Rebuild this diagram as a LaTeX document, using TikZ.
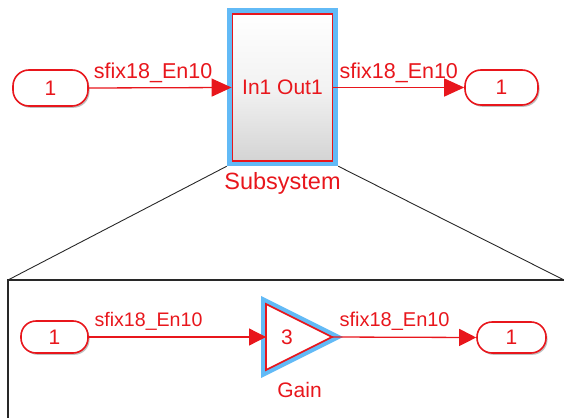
\documentclass[tikz,border=0pt]{standalone}
\usepackage{fontspec}
\setmainfont{Liberation Sans}
\usetikzlibrary{arrows.meta,shadows}
\definecolor{slred}{RGB}{232,22,28}
\definecolor{slblue}{RGB}{98,186,246}
\definecolor{slgray}{RGB}{40,40,40}
\tikzset{
  port/.style={draw=slred, line width=1.6pt, fill=white, rectangle, rounded corners=16pt,
    inner sep=0pt, text=slred, font=\fontsize{21}{21}\selectfont,
    drop shadow={shadow xshift=1.5pt, shadow yshift=-1.8pt, opacity=0.25, fill=black}},
  sig/.style={draw=slred, line width=1.3pt},
  sigtop/.style={sig, -{Triangle[length=20pt,width=18pt]}},
  sigbot/.style={sig, -{Triangle[length=17pt,width=17pt]}},
  siglabel/.style={text=slred, anchor=base, inner sep=0pt},
  frameline/.style={draw=slgray, line width=1.5pt},
  zoomline/.style={draw=slgray, line width=0.9pt},
}
\begin{document}
\begin{tikzpicture}[x=1pt,y=-1pt]
\useasboundingbox (0,0) rectangle (564,417);
% top level
\node[port, minimum width=75pt, minimum height=36pt] (inTop) at (50.5,88) {1};
\node[port, minimum width=73pt, minimum height=35pt] (outTop) at (501.5,87.5) {1};
\node[fill=slblue, draw=none, minimum width=111pt, minimum height=158pt, inner sep=0pt] (subsysHL) at (282.5,87) {};
\node[draw=slred, line width=1.8pt, top color=white, bottom color=black!17, middle color=black!5,
      minimum width=100pt, minimum height=147pt, inner sep=0pt, text=slred,
      font=\fontsize{21}{21}\selectfont] (subsys) at (282.5,87.5) {In1 Out1};
\node[text=slred, anchor=base, font=\fontsize{23.5}{23.5}\selectfont, inner sep=0pt] (subsysLabel) at (282.5,189) {Subsystem};
\draw[sigtop] (inTop.east) -- node[siglabel, pos=0.45, yshift=9pt, font=\fontsize{21.5}{21.5}\selectfont] (lblA) {sfix18\_En10} (subsys.west);
\draw[sigtop] (subsys.east) -- node[siglabel, pos=0.50, yshift=9pt, font=\fontsize{21.5}{21.5}\selectfont] (lblB) {sfix18\_En10} (outTop.west);
% zoom frame
\coordinate (frameTL) at (8,280);
\coordinate (frameTR) at (564,280);
\coordinate (frameBL) at (8,420);
\draw[zoomline] (subsysHL.south west) -- (frameTL);
\draw[zoomline] (subsysHL.south east) -- (frameTR);
\draw[frameline] (frameBL) -- (frameTL) -- (frameTR);
% lower level
\node[port, minimum width=67pt, minimum height=32pt, rounded corners=15pt] (inBot) at (54.5,337) {1};
\node[port, minimum width=69pt, minimum height=31pt, rounded corners=15pt] (outBot) at (511.5,337.5) {1};
\coordinate (gainL) at (266,337);
\coordinate (gainT) at (332,337);
\draw[slblue, line width=10pt, line join=miter, miter limit=10] (266,304) -- (332,337) -- (266,370) -- cycle;
\draw[draw=slred, fill=white, line width=1.6pt, line join=miter] (266,304) -- (gainT) -- (266,370) -- cycle;
\node[text=slred, font=\fontsize{21}{21}\selectfont, inner sep=0pt] (gainVal) at (287,337) {3};
\node[text=slred, anchor=base, font=\fontsize{21}{21}\selectfont, inner sep=0pt] (gainLabel) at (299.5,397) {Gain};
\draw[sigbot] (inBot.east) -- node[siglabel, pos=0.337, yshift=11pt, font=\fontsize{19.6}{19.6}\selectfont] (lblC) {sfix18\_En10} (gainL);
\draw[sigbot] (gainT) -- node[siglabel, pos=0.434, yshift=11pt, font=\fontsize{20}{20}\selectfont] (lblD) {sfix18\_En10} (outBot.west);
\end{tikzpicture}
\end{document}
